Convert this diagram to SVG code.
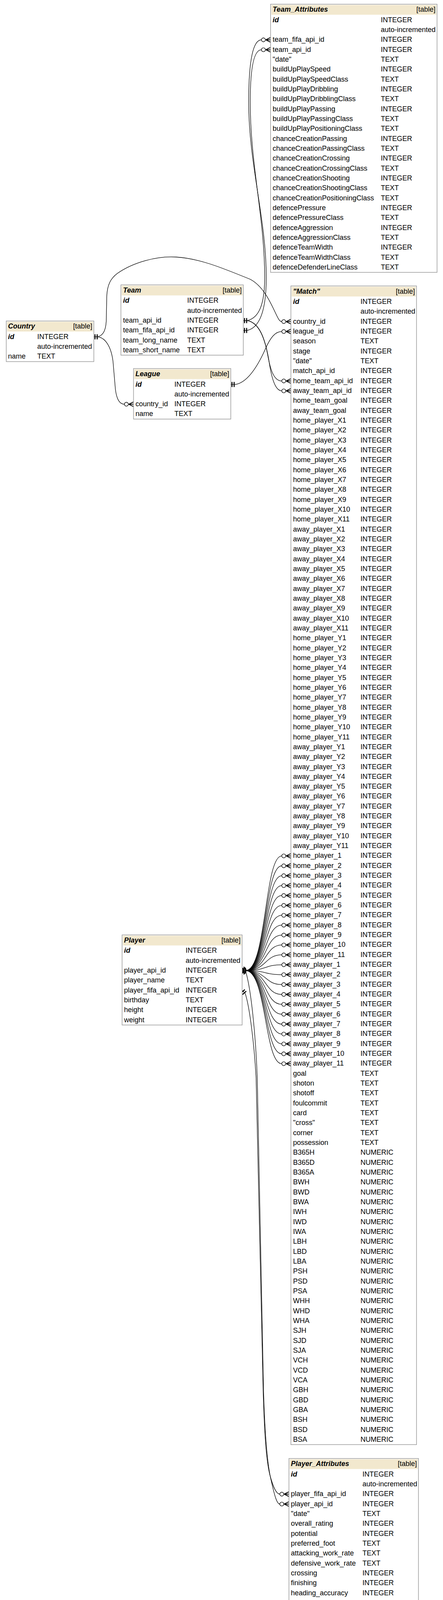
<svg xmlns="http://www.w3.org/2000/svg" width="1133" height="4926" viewBox="0 0 1133 4926">
<style>
text{font-family:"Liberation Sans",Arial,Helvetica,sans-serif;font-size:18px;fill:#000}
.pk,.ti{font-weight:bold;font-style:italic}
.tg{text-anchor:end}
.box{fill:#fff;stroke:#9a9a9a;stroke-width:1.5}
.hd{fill:#F2E8CE}
.e{fill:none;stroke:#000;stroke-width:1.3}
.mk{fill:none;stroke:#000;stroke-width:2}
.oc{fill:#fff;stroke:#000;stroke-width:1.4}
.tk{fill:none;stroke:#000;stroke-width:2.6}
</style>
<defs>
<g id="cf"><path class="mk" d="M -12.3 0 L 0 -6 M -12.3 0 L 0 0 M -12.3 0 L 0 6"/><circle class="oc" cx="-18.3" cy="0" r="5"/></g>
<g id="tee"><path class="tk" d="M 3 -6.5 V 6.5 M 8.5 -6.5 V 6.5"/></g>
</defs>
<rect x="0" y="0" width="1133" height="4926" fill="#fff"/>

<g id="connectors">
<path class="e" d="M 240 862.3 L 250 862.3 C 268 864 284 885 289 925 L 295 995 C 298 1022 306 1034.8 318.2 1034.8"/>
<path class="e" d="M 240 862.3 L 250 862.3 C 266 858 272 842 272 812 L 273 760 C 274 728 284 712 300 700 C 340 672 400 655 450 658 C 505 661 560 682 640 715 C 672 732 690 770 704 800 C 711 815 715 823.3 720.7 823.3"/>
<path class="e" d="M 590.3 984.2 L 603 984.2 C 635 978 660 935 678 895 C 692 862 705 848.7 720.7 848.7"/>
<path class="e" d="M 622.3 820.7 L 632 820.7 C 660 825 675 858 684 905 C 691 945 700 975.3 720.7 975.3"/>
<path class="e" d="M 622.3 820.7 L 632 820.7 C 664 826 678 870 687 918 C 693 960 702 1000.6 720.7 1000.6"/>
<path class="e" d="M 622.3 820.7 L 632 820.7 C 664 814 677 775 677 710 C 677 560 640 420 640 262 C 640 170 650 127.4 668.7 127.4"/>
<path class="e" d="M 622.3 846 L 632 846 C 668 838 681 785 681 710 C 681 560 636 420 636 262 C 636 150 648 102 668.7 102"/>
<path class="e" d="M 619.3 2484.7 L 628 2486 C 642 2530 654 2650 658 2760 L 674 3560 C 677 3660 682 3745 694 3792 C 702 3828 708 3850.4 715.7 3850.4"/>
<path class="e" d="M 619.3 2535.4 L 627 2543 C 638 2575 650 2670 655 2760 L 673 3560 C 676 3660 680 3735 690 3775 C 698 3805 706 3825 715.7 3825"/>
<g id="fan">
<path class="e" d="M 619.3 2484.7 L 628 2484.7 C 682 2484.7 676 2191.15 720.7 2191.15"/>
<path class="e" d="M 619.3 2484.7 L 628 2484.7 C 682 2484.7 676 2216.48 720.7 2216.48"/>
<path class="e" d="M 619.3 2484.7 L 628 2484.7 C 682 2484.7 676 2241.81 720.7 2241.81"/>
<path class="e" d="M 619.3 2484.7 L 628 2484.7 C 682 2484.7 676 2267.14 720.7 2267.14"/>
<path class="e" d="M 619.3 2484.7 L 628 2484.7 C 682 2484.7 676 2292.47 720.7 2292.47"/>
<path class="e" d="M 619.3 2484.7 L 628 2484.7 C 682 2484.7 676 2317.80 720.7 2317.80"/>
<path class="e" d="M 619.3 2484.7 L 628 2484.7 C 682 2484.7 676 2343.13 720.7 2343.13"/>
<path class="e" d="M 619.3 2484.7 L 628 2484.7 C 682 2484.7 676 2368.46 720.7 2368.46"/>
<path class="e" d="M 619.3 2484.7 L 628 2484.7 C 682 2484.7 676 2393.79 720.7 2393.79"/>
<path class="e" d="M 619.3 2484.7 L 628 2484.7 C 682 2484.7 676 2419.12 720.7 2419.12"/>
<path class="e" d="M 619.3 2484.7 L 628 2484.7 C 682 2484.7 676 2444.45 720.7 2444.45"/>
<path class="e" d="M 619.3 2484.7 L 628 2484.7 C 682 2484.7 676 2469.78 720.7 2469.78"/>
<path class="e" d="M 619.3 2484.7 L 628 2484.7 C 682 2484.7 676 2495.11 720.7 2495.11"/>
<path class="e" d="M 619.3 2484.7 L 628 2484.7 C 682 2484.7 676 2520.44 720.7 2520.44"/>
<path class="e" d="M 619.3 2484.7 L 628 2484.7 C 682 2484.7 676 2545.77 720.7 2545.77"/>
<path class="e" d="M 619.3 2484.7 L 628 2484.7 C 682 2484.7 676 2571.10 720.7 2571.10"/>
<path class="e" d="M 619.3 2484.7 L 628 2484.7 C 682 2484.7 676 2596.43 720.7 2596.43"/>
<path class="e" d="M 619.3 2484.7 L 628 2484.7 C 682 2484.7 676 2621.76 720.7 2621.76"/>
<path class="e" d="M 619.3 2484.7 L 628 2484.7 C 682 2484.7 676 2647.09 720.7 2647.09"/>
<path class="e" d="M 619.3 2484.7 L 628 2484.7 C 682 2484.7 676 2672.42 720.7 2672.42"/>
<path class="e" d="M 619.3 2484.7 L 628 2484.7 C 682 2484.7 676 2697.75 720.7 2697.75"/>
<path class="e" d="M 619.3 2484.7 L 628 2484.7 C 682 2484.7 676 2723.08 720.7 2723.08"/>
</g>
<g id="ends">
<use href="#tee" x="240" y="862.3"/>
<use href="#tee" x="622.3" y="820.7"/>
<use href="#tee" x="622.3" y="846"/>
<use href="#tee" x="590.3" y="984.2"/>
<use href="#tee" transform="translate(619.3 2484.7) rotate(-30)"/>
<use href="#tee" transform="translate(619.3 2484.7) rotate(-12)"/>
<use href="#tee" transform="translate(619.3 2484.7)"/>
<use href="#tee" transform="translate(619.3 2484.7) rotate(12)"/>
<use href="#tee" transform="translate(619.3 2484.7) rotate(30)"/>
<use href="#tee" transform="translate(619.3 2535.4) rotate(48)"/>
<use href="#cf" x="692" y="102"/>
<use href="#cf" x="692" y="127.4"/>
<use href="#cf" x="341.5" y="1034.8"/>
<use href="#cf" x="744" y="823.3"/>
<use href="#cf" x="744" y="848.7"/>
<use href="#cf" x="744" y="975.3"/>
<use href="#cf" x="744" y="1000.6"/>
<use href="#cf" x="744" y="2191.15"/>
<use href="#cf" x="744" y="2216.48"/>
<use href="#cf" x="744" y="2241.81"/>
<use href="#cf" x="744" y="2267.14"/>
<use href="#cf" x="744" y="2292.47"/>
<use href="#cf" x="744" y="2317.80"/>
<use href="#cf" x="744" y="2343.13"/>
<use href="#cf" x="744" y="2368.46"/>
<use href="#cf" x="744" y="2393.79"/>
<use href="#cf" x="744" y="2419.12"/>
<use href="#cf" x="744" y="2444.45"/>
<use href="#cf" x="744" y="2469.78"/>
<use href="#cf" x="744" y="2495.11"/>
<use href="#cf" x="744" y="2520.44"/>
<use href="#cf" x="744" y="2545.77"/>
<use href="#cf" x="744" y="2571.10"/>
<use href="#cf" x="744" y="2596.43"/>
<use href="#cf" x="744" y="2621.76"/>
<use href="#cf" x="744" y="2647.09"/>
<use href="#cf" x="744" y="2672.42"/>
<use href="#cf" x="744" y="2697.75"/>
<use href="#cf" x="744" y="2723.08"/>
<use href="#cf" x="739" y="3825"/>
<use href="#cf" x="739" y="3850.4"/>
</g>
</g>

<g id="Team_Attributes">
<rect class="box" x="692" y="10.7" width="425.7" height="686.6"/>
<rect class="hd" x="694" y="12.7" width="421.7" height="25"/>
<text class="ti" x="697.3" y="30.2">Team_Attributes</text>
<text class="tg" x="1113.7" y="30.2">[table]</text>
<text class="pk" x="697.3" y="56.7">id</text>
<text x="697.3" y="107.36"><tspan x="697.3">team_fifa_api_id</tspan><tspan x="697.3" dy="25.33">team_api_id</tspan><tspan x="697.3" dy="25.33">"date"</tspan><tspan x="697.3" dy="25.33">buildUpPlaySpeed</tspan><tspan x="697.3" dy="25.33">buildUpPlaySpeedClass</tspan><tspan x="697.3" dy="25.33">buildUpPlayDribbling</tspan><tspan x="697.3" dy="25.33">buildUpPlayDribblingClass</tspan><tspan x="697.3" dy="25.33">buildUpPlayPassing</tspan><tspan x="697.3" dy="25.33">buildUpPlayPassingClass</tspan><tspan x="697.3" dy="25.33">buildUpPlayPositioningClass</tspan><tspan x="697.3" dy="25.33">chanceCreationPassing</tspan><tspan x="697.3" dy="25.33">chanceCreationPassingClass</tspan><tspan x="697.3" dy="25.33">chanceCreationCrossing</tspan><tspan x="697.3" dy="25.33">chanceCreationCrossingClass</tspan><tspan x="697.3" dy="25.33">chanceCreationShooting</tspan><tspan x="697.3" dy="25.33">chanceCreationShootingClass</tspan><tspan x="697.3" dy="25.33">chanceCreationPositioningClass</tspan><tspan x="697.3" dy="25.33">defencePressure</tspan><tspan x="697.3" dy="25.33">defencePressureClass</tspan><tspan x="697.3" dy="25.33">defenceAggression</tspan><tspan x="697.3" dy="25.33">defenceAggressionClass</tspan><tspan x="697.3" dy="25.33">defenceTeamWidth</tspan><tspan x="697.3" dy="25.33">defenceTeamWidthClass</tspan><tspan x="697.3" dy="25.33">defenceDefenderLineClass</tspan></text>
<text x="974" y="56.7"><tspan x="974">INTEGER</tspan><tspan x="974" dy="25.33">auto-incremented</tspan><tspan x="974" dy="25.33">INTEGER</tspan><tspan x="974" dy="25.33">INTEGER</tspan><tspan x="974" dy="25.33">TEXT</tspan><tspan x="974" dy="25.33">INTEGER</tspan><tspan x="974" dy="25.33">TEXT</tspan><tspan x="974" dy="25.33">INTEGER</tspan><tspan x="974" dy="25.33">TEXT</tspan><tspan x="974" dy="25.33">INTEGER</tspan><tspan x="974" dy="25.33">TEXT</tspan><tspan x="974" dy="25.33">TEXT</tspan><tspan x="974" dy="25.33">INTEGER</tspan><tspan x="974" dy="25.33">TEXT</tspan><tspan x="974" dy="25.33">INTEGER</tspan><tspan x="974" dy="25.33">TEXT</tspan><tspan x="974" dy="25.33">INTEGER</tspan><tspan x="974" dy="25.33">TEXT</tspan><tspan x="974" dy="25.33">TEXT</tspan><tspan x="974" dy="25.33">INTEGER</tspan><tspan x="974" dy="25.33">TEXT</tspan><tspan x="974" dy="25.33">INTEGER</tspan><tspan x="974" dy="25.33">TEXT</tspan><tspan x="974" dy="25.33">INTEGER</tspan><tspan x="974" dy="25.33">TEXT</tspan><tspan x="974" dy="25.33">TEXT</tspan></text>
</g>

<g id="Team">
<rect class="box" x="309.3" y="729.3" width="313" height="179.98"/>
<rect class="hd" x="311.3" y="731.3" width="309" height="25"/>
<text class="ti" x="314.7" y="748.8">Team</text>
<text class="tg" x="618.3" y="748.8">[table]</text>
<text class="pk" x="314.7" y="775.3">id</text>
<text x="314.7" y="825.96"><tspan x="314.7">team_api_id</tspan><tspan x="314.7" dy="25.33">team_fifa_api_id</tspan><tspan x="314.7" dy="25.33">team_long_name</tspan><tspan x="314.7" dy="25.33">team_short_name</tspan></text>
<text x="478.7" y="775.3"><tspan x="478.7">INTEGER</tspan><tspan x="478.7" dy="25.33">auto-incremented</tspan><tspan x="478.7" dy="25.33">INTEGER</tspan><tspan x="478.7" dy="25.33">INTEGER</tspan><tspan x="478.7" dy="25.33">TEXT</tspan><tspan x="478.7" dy="25.33">TEXT</tspan></text>
</g>

<g id="Country">
<rect class="box" x="16" y="821.7" width="224" height="103.99"/>
<rect class="hd" x="18" y="823.7" width="220" height="25"/>
<text class="ti" x="20.5" y="841.2">Country</text>
<text class="tg" x="236" y="841.2">[table]</text>
<text class="pk" x="20.5" y="867.7">id</text>
<text x="20.5" y="918.36">name</text>
<text x="95.3" y="867.7"><tspan x="95.3">INTEGER</tspan><tspan x="95.3" dy="25.33">auto-incremented</tspan><tspan x="95.3" dy="25.33">TEXT</tspan></text>
</g>

<g id="League">
<rect class="box" x="341.5" y="943.5" width="248.8" height="129.32"/>
<rect class="hd" x="343.5" y="945.5" width="244.8" height="25"/>
<text class="ti" x="346.5" y="963">League</text>
<text class="tg" x="586.3" y="963">[table]</text>
<text class="pk" x="346.5" y="989.5">id</text>
<text x="346.5" y="1040.16"><tspan x="346.5">country_id</tspan><tspan x="346.5" dy="25.33">name</tspan></text>
<text x="446" y="989.5"><tspan x="446">INTEGER</tspan><tspan x="446" dy="25.33">auto-incremented</tspan><tspan x="446" dy="25.33">INTEGER</tspan><tspan x="446" dy="25.33">TEXT</tspan></text>
</g>

<g id="Match">
<rect class="box" x="744" y="732" width="321.3" height="2966.28"/>
<rect class="hd" x="746" y="734" width="317.3" height="25"/>
<text class="ti" x="749.5" y="751.5">"Match"</text>
<text class="tg" x="1061.3" y="751.5">[table]</text>
<text class="pk" x="749.5" y="778">id</text>
<text x="749.5" y="828.66"><tspan x="749.5">country_id</tspan><tspan x="749.5" dy="25.33">league_id</tspan><tspan x="749.5" dy="25.33">season</tspan><tspan x="749.5" dy="25.33">stage</tspan><tspan x="749.5" dy="25.33">"date"</tspan><tspan x="749.5" dy="25.33">match_api_id</tspan><tspan x="749.5" dy="25.33">home_team_api_id</tspan><tspan x="749.5" dy="25.33">away_team_api_id</tspan><tspan x="749.5" dy="25.33">home_team_goal</tspan><tspan x="749.5" dy="25.33">away_team_goal</tspan><tspan x="749.5" dy="25.33">home_player_X1</tspan><tspan x="749.5" dy="25.33">home_player_X2</tspan><tspan x="749.5" dy="25.33">home_player_X3</tspan><tspan x="749.5" dy="25.33">home_player_X4</tspan><tspan x="749.5" dy="25.33">home_player_X5</tspan><tspan x="749.5" dy="25.33">home_player_X6</tspan><tspan x="749.5" dy="25.33">home_player_X7</tspan><tspan x="749.5" dy="25.33">home_player_X8</tspan><tspan x="749.5" dy="25.33">home_player_X9</tspan><tspan x="749.5" dy="25.33">home_player_X10</tspan><tspan x="749.5" dy="25.33">home_player_X11</tspan><tspan x="749.5" dy="25.33">away_player_X1</tspan><tspan x="749.5" dy="25.33">away_player_X2</tspan><tspan x="749.5" dy="25.33">away_player_X3</tspan><tspan x="749.5" dy="25.33">away_player_X4</tspan><tspan x="749.5" dy="25.33">away_player_X5</tspan><tspan x="749.5" dy="25.33">away_player_X6</tspan><tspan x="749.5" dy="25.33">away_player_X7</tspan><tspan x="749.5" dy="25.33">away_player_X8</tspan><tspan x="749.5" dy="25.33">away_player_X9</tspan><tspan x="749.5" dy="25.33">away_player_X10</tspan><tspan x="749.5" dy="25.33">away_player_X11</tspan><tspan x="749.5" dy="25.33">home_player_Y1</tspan><tspan x="749.5" dy="25.33">home_player_Y2</tspan><tspan x="749.5" dy="25.33">home_player_Y3</tspan><tspan x="749.5" dy="25.33">home_player_Y4</tspan><tspan x="749.5" dy="25.33">home_player_Y5</tspan><tspan x="749.5" dy="25.33">home_player_Y6</tspan><tspan x="749.5" dy="25.33">home_player_Y7</tspan><tspan x="749.5" dy="25.33">home_player_Y8</tspan><tspan x="749.5" dy="25.33">home_player_Y9</tspan><tspan x="749.5" dy="25.33">home_player_Y10</tspan><tspan x="749.5" dy="25.33">home_player_Y11</tspan><tspan x="749.5" dy="25.33">away_player_Y1</tspan><tspan x="749.5" dy="25.33">away_player_Y2</tspan><tspan x="749.5" dy="25.33">away_player_Y3</tspan><tspan x="749.5" dy="25.33">away_player_Y4</tspan><tspan x="749.5" dy="25.33">away_player_Y5</tspan><tspan x="749.5" dy="25.33">away_player_Y6</tspan><tspan x="749.5" dy="25.33">away_player_Y7</tspan><tspan x="749.5" dy="25.33">away_player_Y8</tspan><tspan x="749.5" dy="25.33">away_player_Y9</tspan><tspan x="749.5" dy="25.33">away_player_Y10</tspan><tspan x="749.5" dy="25.33">away_player_Y11</tspan><tspan x="749.5" dy="25.33">home_player_1</tspan><tspan x="749.5" dy="25.33">home_player_2</tspan><tspan x="749.5" dy="25.33">home_player_3</tspan><tspan x="749.5" dy="25.33">home_player_4</tspan><tspan x="749.5" dy="25.33">home_player_5</tspan><tspan x="749.5" dy="25.33">home_player_6</tspan><tspan x="749.5" dy="25.33">home_player_7</tspan><tspan x="749.5" dy="25.33">home_player_8</tspan><tspan x="749.5" dy="25.33">home_player_9</tspan><tspan x="749.5" dy="25.33">home_player_10</tspan><tspan x="749.5" dy="25.33">home_player_11</tspan><tspan x="749.5" dy="25.33">away_player_1</tspan><tspan x="749.5" dy="25.33">away_player_2</tspan><tspan x="749.5" dy="25.33">away_player_3</tspan><tspan x="749.5" dy="25.33">away_player_4</tspan><tspan x="749.5" dy="25.33">away_player_5</tspan><tspan x="749.5" dy="25.33">away_player_6</tspan><tspan x="749.5" dy="25.33">away_player_7</tspan><tspan x="749.5" dy="25.33">away_player_8</tspan><tspan x="749.5" dy="25.33">away_player_9</tspan><tspan x="749.5" dy="25.33">away_player_10</tspan><tspan x="749.5" dy="25.33">away_player_11</tspan><tspan x="749.5" dy="25.33">goal</tspan><tspan x="749.5" dy="25.33">shoton</tspan><tspan x="749.5" dy="25.33">shotoff</tspan><tspan x="749.5" dy="25.33">foulcommit</tspan><tspan x="749.5" dy="25.33">card</tspan><tspan x="749.5" dy="25.33">"cross"</tspan><tspan x="749.5" dy="25.33">corner</tspan><tspan x="749.5" dy="25.33">possession</tspan><tspan x="749.5" dy="25.33">B365H</tspan><tspan x="749.5" dy="25.33">B365D</tspan><tspan x="749.5" dy="25.33">B365A</tspan><tspan x="749.5" dy="25.33">BWH</tspan><tspan x="749.5" dy="25.33">BWD</tspan><tspan x="749.5" dy="25.33">BWA</tspan><tspan x="749.5" dy="25.33">IWH</tspan><tspan x="749.5" dy="25.33">IWD</tspan><tspan x="749.5" dy="25.33">IWA</tspan><tspan x="749.5" dy="25.33">LBH</tspan><tspan x="749.5" dy="25.33">LBD</tspan><tspan x="749.5" dy="25.33">LBA</tspan><tspan x="749.5" dy="25.33">PSH</tspan><tspan x="749.5" dy="25.33">PSD</tspan><tspan x="749.5" dy="25.33">PSA</tspan><tspan x="749.5" dy="25.33">WHH</tspan><tspan x="749.5" dy="25.33">WHD</tspan><tspan x="749.5" dy="25.33">WHA</tspan><tspan x="749.5" dy="25.33">SJH</tspan><tspan x="749.5" dy="25.33">SJD</tspan><tspan x="749.5" dy="25.33">SJA</tspan><tspan x="749.5" dy="25.33">VCH</tspan><tspan x="749.5" dy="25.33">VCD</tspan><tspan x="749.5" dy="25.33">VCA</tspan><tspan x="749.5" dy="25.33">GBH</tspan><tspan x="749.5" dy="25.33">GBD</tspan><tspan x="749.5" dy="25.33">GBA</tspan><tspan x="749.5" dy="25.33">BSH</tspan><tspan x="749.5" dy="25.33">BSD</tspan><tspan x="749.5" dy="25.33">BSA</tspan></text>
<text x="922" y="778"><tspan x="922">INTEGER</tspan><tspan x="922" dy="25.33">auto-incremented</tspan><tspan x="922" dy="25.33">INTEGER</tspan><tspan x="922" dy="25.33">INTEGER</tspan><tspan x="922" dy="25.33">TEXT</tspan><tspan x="922" dy="25.33">INTEGER</tspan><tspan x="922" dy="25.33">TEXT</tspan><tspan x="922" dy="25.33">INTEGER</tspan><tspan x="922" dy="25.33">INTEGER</tspan><tspan x="922" dy="25.33">INTEGER</tspan><tspan x="922" dy="25.33">INTEGER</tspan><tspan x="922" dy="25.33">INTEGER</tspan><tspan x="922" dy="25.33">INTEGER</tspan><tspan x="922" dy="25.33">INTEGER</tspan><tspan x="922" dy="25.33">INTEGER</tspan><tspan x="922" dy="25.33">INTEGER</tspan><tspan x="922" dy="25.33">INTEGER</tspan><tspan x="922" dy="25.33">INTEGER</tspan><tspan x="922" dy="25.33">INTEGER</tspan><tspan x="922" dy="25.33">INTEGER</tspan><tspan x="922" dy="25.33">INTEGER</tspan><tspan x="922" dy="25.33">INTEGER</tspan><tspan x="922" dy="25.33">INTEGER</tspan><tspan x="922" dy="25.33">INTEGER</tspan><tspan x="922" dy="25.33">INTEGER</tspan><tspan x="922" dy="25.33">INTEGER</tspan><tspan x="922" dy="25.33">INTEGER</tspan><tspan x="922" dy="25.33">INTEGER</tspan><tspan x="922" dy="25.33">INTEGER</tspan><tspan x="922" dy="25.33">INTEGER</tspan><tspan x="922" dy="25.33">INTEGER</tspan><tspan x="922" dy="25.33">INTEGER</tspan><tspan x="922" dy="25.33">INTEGER</tspan><tspan x="922" dy="25.33">INTEGER</tspan><tspan x="922" dy="25.33">INTEGER</tspan><tspan x="922" dy="25.33">INTEGER</tspan><tspan x="922" dy="25.33">INTEGER</tspan><tspan x="922" dy="25.33">INTEGER</tspan><tspan x="922" dy="25.33">INTEGER</tspan><tspan x="922" dy="25.33">INTEGER</tspan><tspan x="922" dy="25.33">INTEGER</tspan><tspan x="922" dy="25.33">INTEGER</tspan><tspan x="922" dy="25.33">INTEGER</tspan><tspan x="922" dy="25.33">INTEGER</tspan><tspan x="922" dy="25.33">INTEGER</tspan><tspan x="922" dy="25.33">INTEGER</tspan><tspan x="922" dy="25.33">INTEGER</tspan><tspan x="922" dy="25.33">INTEGER</tspan><tspan x="922" dy="25.33">INTEGER</tspan><tspan x="922" dy="25.33">INTEGER</tspan><tspan x="922" dy="25.33">INTEGER</tspan><tspan x="922" dy="25.33">INTEGER</tspan><tspan x="922" dy="25.33">INTEGER</tspan><tspan x="922" dy="25.33">INTEGER</tspan><tspan x="922" dy="25.33">INTEGER</tspan><tspan x="922" dy="25.33">INTEGER</tspan><tspan x="922" dy="25.33">INTEGER</tspan><tspan x="922" dy="25.33">INTEGER</tspan><tspan x="922" dy="25.33">INTEGER</tspan><tspan x="922" dy="25.33">INTEGER</tspan><tspan x="922" dy="25.33">INTEGER</tspan><tspan x="922" dy="25.33">INTEGER</tspan><tspan x="922" dy="25.33">INTEGER</tspan><tspan x="922" dy="25.33">INTEGER</tspan><tspan x="922" dy="25.33">INTEGER</tspan><tspan x="922" dy="25.33">INTEGER</tspan><tspan x="922" dy="25.33">INTEGER</tspan><tspan x="922" dy="25.33">INTEGER</tspan><tspan x="922" dy="25.33">INTEGER</tspan><tspan x="922" dy="25.33">INTEGER</tspan><tspan x="922" dy="25.33">INTEGER</tspan><tspan x="922" dy="25.33">INTEGER</tspan><tspan x="922" dy="25.33">INTEGER</tspan><tspan x="922" dy="25.33">INTEGER</tspan><tspan x="922" dy="25.33">INTEGER</tspan><tspan x="922" dy="25.33">INTEGER</tspan><tspan x="922" dy="25.33">INTEGER</tspan><tspan x="922" dy="25.33">INTEGER</tspan><tspan x="922" dy="25.33">TEXT</tspan><tspan x="922" dy="25.33">TEXT</tspan><tspan x="922" dy="25.33">TEXT</tspan><tspan x="922" dy="25.33">TEXT</tspan><tspan x="922" dy="25.33">TEXT</tspan><tspan x="922" dy="25.33">TEXT</tspan><tspan x="922" dy="25.33">TEXT</tspan><tspan x="922" dy="25.33">TEXT</tspan><tspan x="922" dy="25.33">NUMERIC</tspan><tspan x="922" dy="25.33">NUMERIC</tspan><tspan x="922" dy="25.33">NUMERIC</tspan><tspan x="922" dy="25.33">NUMERIC</tspan><tspan x="922" dy="25.33">NUMERIC</tspan><tspan x="922" dy="25.33">NUMERIC</tspan><tspan x="922" dy="25.33">NUMERIC</tspan><tspan x="922" dy="25.33">NUMERIC</tspan><tspan x="922" dy="25.33">NUMERIC</tspan><tspan x="922" dy="25.33">NUMERIC</tspan><tspan x="922" dy="25.33">NUMERIC</tspan><tspan x="922" dy="25.33">NUMERIC</tspan><tspan x="922" dy="25.33">NUMERIC</tspan><tspan x="922" dy="25.33">NUMERIC</tspan><tspan x="922" dy="25.33">NUMERIC</tspan><tspan x="922" dy="25.33">NUMERIC</tspan><tspan x="922" dy="25.33">NUMERIC</tspan><tspan x="922" dy="25.33">NUMERIC</tspan><tspan x="922" dy="25.33">NUMERIC</tspan><tspan x="922" dy="25.33">NUMERIC</tspan><tspan x="922" dy="25.33">NUMERIC</tspan><tspan x="922" dy="25.33">NUMERIC</tspan><tspan x="922" dy="25.33">NUMERIC</tspan><tspan x="922" dy="25.33">NUMERIC</tspan><tspan x="922" dy="25.33">NUMERIC</tspan><tspan x="922" dy="25.33">NUMERIC</tspan><tspan x="922" dy="25.33">NUMERIC</tspan><tspan x="922" dy="25.33">NUMERIC</tspan><tspan x="922" dy="25.33">NUMERIC</tspan><tspan x="922" dy="25.33">NUMERIC</tspan></text>
</g>

<g id="Player">
<rect class="box" x="312.3" y="2393.4" width="307" height="230.64"/>
<rect class="hd" x="314.3" y="2395.4" width="303" height="25"/>
<text class="ti" x="317.3" y="2412.9">Player</text>
<text class="tg" x="615.3" y="2412.9">[table]</text>
<text class="pk" x="317.3" y="2439.4">id</text>
<text x="317.3" y="2490.06"><tspan x="317.3">player_api_id</tspan><tspan x="317.3" dy="25.33">player_name</tspan><tspan x="317.3" dy="25.33">player_fifa_api_id</tspan><tspan x="317.3" dy="25.33">birthday</tspan><tspan x="317.3" dy="25.33">height</tspan><tspan x="317.3" dy="25.33">weight</tspan></text>
<text x="474.7" y="2439.4"><tspan x="474.7">INTEGER</tspan><tspan x="474.7" dy="25.33">auto-incremented</tspan><tspan x="474.7" dy="25.33">INTEGER</tspan><tspan x="474.7" dy="25.33">TEXT</tspan><tspan x="474.7" dy="25.33">INTEGER</tspan><tspan x="474.7" dy="25.33">TEXT</tspan><tspan x="474.7" dy="25.33">INTEGER</tspan><tspan x="474.7" dy="25.33">INTEGER</tspan></text>
</g>

<g id="Player_Attributes">
<rect class="box" x="739" y="3733.7" width="331.3" height="1117.19"/>
<rect class="hd" x="741" y="3735.7" width="327.3" height="25"/>
<text class="ti" x="744" y="3753.2">Player_Attributes</text>
<text class="tg" x="1066.3" y="3753.2">[table]</text>
<text class="pk" x="744" y="3779.7">id</text>
<text x="744" y="3830.36"><tspan x="744">player_fifa_api_id</tspan><tspan x="744" dy="25.33">player_api_id</tspan><tspan x="744" dy="25.33">"date"</tspan><tspan x="744" dy="25.33">overall_rating</tspan><tspan x="744" dy="25.33">potential</tspan><tspan x="744" dy="25.33">preferred_foot</tspan><tspan x="744" dy="25.33">attacking_work_rate</tspan><tspan x="744" dy="25.33">defensive_work_rate</tspan><tspan x="744" dy="25.33">crossing</tspan><tspan x="744" dy="25.33">finishing</tspan><tspan x="744" dy="25.33">heading_accuracy</tspan><tspan x="744" dy="25.33">short_passing</tspan><tspan x="744" dy="25.33">volleys</tspan><tspan x="744" dy="25.33">dribbling</tspan><tspan x="744" dy="25.33">curve</tspan><tspan x="744" dy="25.33">free_kick_accuracy</tspan><tspan x="744" dy="25.33">long_passing</tspan><tspan x="744" dy="25.33">ball_control</tspan><tspan x="744" dy="25.33">acceleration</tspan><tspan x="744" dy="25.33">sprint_speed</tspan><tspan x="744" dy="25.33">agility</tspan><tspan x="744" dy="25.33">reactions</tspan><tspan x="744" dy="25.33">balance</tspan><tspan x="744" dy="25.33">shot_power</tspan><tspan x="744" dy="25.33">jumping</tspan><tspan x="744" dy="25.33">stamina</tspan><tspan x="744" dy="25.33">strength</tspan><tspan x="744" dy="25.33">long_shots</tspan><tspan x="744" dy="25.33">aggression</tspan><tspan x="744" dy="25.33">interceptions</tspan><tspan x="744" dy="25.33">positioning</tspan><tspan x="744" dy="25.33">vision</tspan><tspan x="744" dy="25.33">penalties</tspan><tspan x="744" dy="25.33">marking</tspan><tspan x="744" dy="25.33">standing_tackle</tspan><tspan x="744" dy="25.33">sliding_tackle</tspan><tspan x="744" dy="25.33">gk_diving</tspan><tspan x="744" dy="25.33">gk_handling</tspan><tspan x="744" dy="25.33">gk_kicking</tspan><tspan x="744" dy="25.33">gk_positioning</tspan><tspan x="744" dy="25.33">gk_reflexes</tspan></text>
<text x="927" y="3779.7"><tspan x="927">INTEGER</tspan><tspan x="927" dy="25.33">auto-incremented</tspan><tspan x="927" dy="25.33">INTEGER</tspan><tspan x="927" dy="25.33">INTEGER</tspan><tspan x="927" dy="25.33">TEXT</tspan><tspan x="927" dy="25.33">INTEGER</tspan><tspan x="927" dy="25.33">INTEGER</tspan><tspan x="927" dy="25.33">TEXT</tspan><tspan x="927" dy="25.33">TEXT</tspan><tspan x="927" dy="25.33">TEXT</tspan><tspan x="927" dy="25.33">INTEGER</tspan><tspan x="927" dy="25.33">INTEGER</tspan><tspan x="927" dy="25.33">INTEGER</tspan><tspan x="927" dy="25.33">INTEGER</tspan><tspan x="927" dy="25.33">INTEGER</tspan><tspan x="927" dy="25.33">INTEGER</tspan><tspan x="927" dy="25.33">INTEGER</tspan><tspan x="927" dy="25.33">INTEGER</tspan><tspan x="927" dy="25.33">INTEGER</tspan><tspan x="927" dy="25.33">INTEGER</tspan><tspan x="927" dy="25.33">INTEGER</tspan><tspan x="927" dy="25.33">INTEGER</tspan><tspan x="927" dy="25.33">INTEGER</tspan><tspan x="927" dy="25.33">INTEGER</tspan><tspan x="927" dy="25.33">INTEGER</tspan><tspan x="927" dy="25.33">INTEGER</tspan><tspan x="927" dy="25.33">INTEGER</tspan><tspan x="927" dy="25.33">INTEGER</tspan><tspan x="927" dy="25.33">INTEGER</tspan><tspan x="927" dy="25.33">INTEGER</tspan><tspan x="927" dy="25.33">INTEGER</tspan><tspan x="927" dy="25.33">INTEGER</tspan><tspan x="927" dy="25.33">INTEGER</tspan><tspan x="927" dy="25.33">INTEGER</tspan><tspan x="927" dy="25.33">INTEGER</tspan><tspan x="927" dy="25.33">INTEGER</tspan><tspan x="927" dy="25.33">INTEGER</tspan><tspan x="927" dy="25.33">INTEGER</tspan><tspan x="927" dy="25.33">INTEGER</tspan><tspan x="927" dy="25.33">INTEGER</tspan><tspan x="927" dy="25.33">INTEGER</tspan><tspan x="927" dy="25.33">INTEGER</tspan><tspan x="927" dy="25.33">INTEGER</tspan></text>
</g>

<g id="footer">
<rect class="box" x="792" y="4861.7" width="325.3" height="53.3"/>
<text x="796.7" y="4882">generated by SchemaCrawler 15.03.04</text>
<text x="796.7" y="4907">generated on 2019-01-11 11:44:21</text>
</g>
</svg>
